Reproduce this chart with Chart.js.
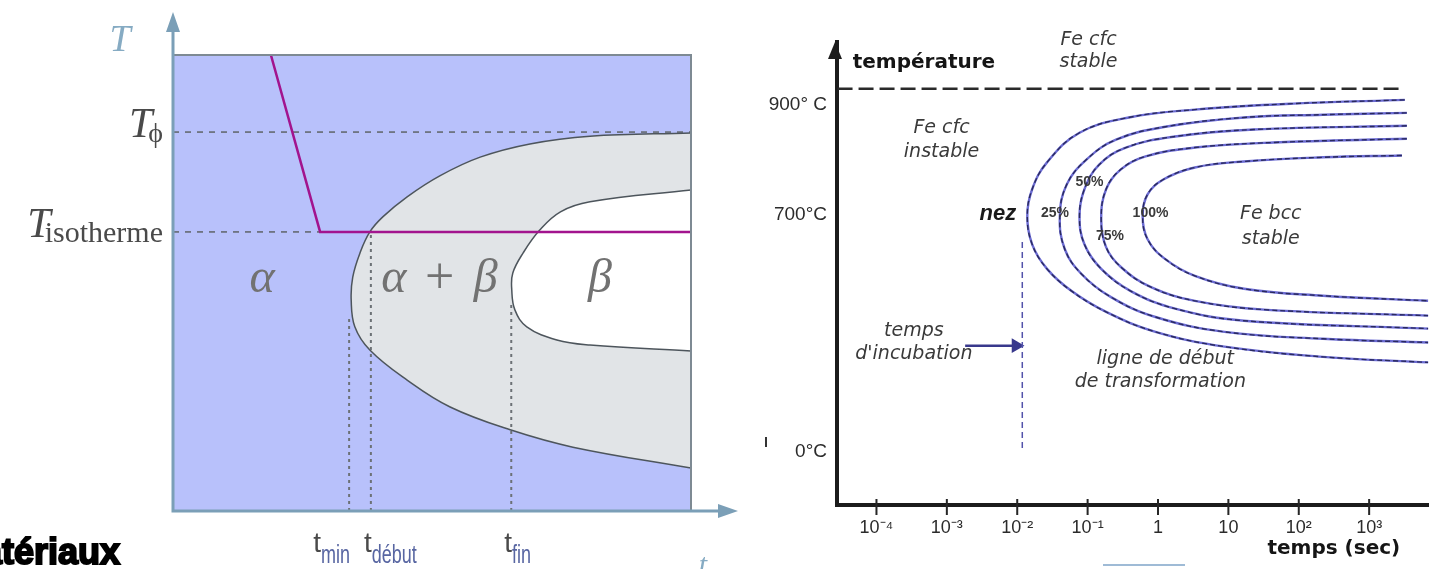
<!DOCTYPE html>
<html lang="fr">
<head>
<meta charset="UTF-8">
<title>Diagramme TTT</title>
<script src="https://cdn.jsdelivr.net/npm/chart.js@4.4.0/dist/chart.umd.min.js"></script>
<style>
  html, body { margin: 0; padding: 0; background: #fff; overflow: hidden; }
  #left { position: absolute; left: 0; top: 0; }
  #right { position: absolute; left: 760px; top: 0; }
</style>
</head>
<body>
<canvas id="left" width="760" height="569"></canvas>
<canvas id="right" width="677" height="569"></canvas>
<script>
// ---------- left diagram (schematic units, 0..100 on both axes) ----------
// boundary alpha | alpha+beta, from top right round the nose to bottom right
const phaseOuter = [[100, 82.9], [80.5, 82.2], [68.9, 80.5], [59.3, 77.6], [51.5, 73.5], [45.2, 68.9],
  [40.5, 64.5], [38.0, 61.2], [36.1, 56.6], [34.7, 51.3], [34.4, 46.3], [35.1, 40.4], [38.0, 35.3],
  [45.2, 28.7], [53.5, 22.8], [65.1, 17.8], [77.2, 14.0], [100, 9.4]];
// boundary alpha+beta | beta
const phaseInner = [[100, 70.4], [80.5, 67.8], [74.8, 65.6], [70.8, 61.6], [67.6, 56.6], [65.6, 52.2],
  [65.4, 48.5], [66.0, 44.1], [68.3, 40.4], [74.1, 37.5], [80.5, 36.4], [100, 35.1]];
const coolingPath = [[18.9, 100], [28.4, 61.2], [100, 61.2]];
const tempLevels = [83.1, 61.2];
const tempSubs = ['ϕ', 'isotherme'];
const timeMarks = [34.0, 38.2, 65.3];
const timeMarkTops = [42.3, 61.2, 46.0];
const timeMarkSubs = ['min', 'début', 'fin'];
const phaseNames = ['α', 'α + β', 'β'];
const phaseX = [17.2, 51.5, 82.4];
const phaseY = 50.7;

// ---------- right diagram (time in s, log axis; temperature axis is schematic) ----------
const timeTicks = [1e-4, 1e-3, 1e-2, 1e-1, 1, 10, 100, 1000];
const timeTickLabels = ['10⁻⁴', '10⁻³', '10⁻²', '10⁻¹', '1', '10', '10²', '10³'];
const tempTicks = [11.6, 62.7, 86.5];
const tempTickLabels = ['0°C', '700°C', '900° C'];
const curveStart = [[3210, 87.5], [84, 86.7], [3.34, 85.4], [0.385, 83.7], [0.0767, 80.4], [0.0265, 74.0],
  [0.0163, 68.2], [0.0139, 62.4], [0.0163, 56.3], [0.0265, 51.0], [0.0593, 46.2], [0.183, 41.7],
  [0.92, 37.4], [8.79, 34.2], [221, 32.0], [6900, 30.8]];
const curve25 = [[3430, 84.7], [221, 84.3], [16.7, 83.7], [1.27, 81.7], [0.253, 78.9], [0.0962, 74.6],
  [0.0505, 69.2], [0.0403, 62.4], [0.0473, 55.3], [0.0818, 49.9], [0.215, 44.9], [0.92, 40.6],
  [8.79, 37.4], [221, 35.9], [6900, 35.1]];
const curve50 = [[3430, 81.9], [23.1, 81.1], [1.75, 79.6], [0.349, 77.2], [0.146, 73.5], [0.0901, 68.2],
  [0.0767, 62.4], [0.0901, 56.3], [0.156, 51.0], [0.41, 46.2], [1.75, 42.4], [16.7, 39.8], [6900, 38.1]];
const curve75 = [[3430, 79.1], [44.1, 78.3], [3.34, 77.2], [0.667, 75.3], [0.297, 72.5], [0.183, 68.2],
  [0.156, 61.7], [0.183, 55.7], [0.297, 51.4], [0.783, 47.1], [3.34, 44.1], [31.9, 42.2], [6900, 40.9]];
const curve100 = [[2920, 75.5], [221, 75.1], [16.7, 74.2], [3.34, 72.9], [1.19, 70.3], [0.711, 67.1],
  [0.605, 62.4], [0.711, 57.4], [1.27, 53.1], [3.34, 49.5], [16.7, 46.7], [221, 45.2], [6900, 44.1]];
const stableLimit = 89.9;
const incubationTime = 0.0118;
const incubationSpan = [56.8, 12.3];
const incubationArrow = [[0.00182, 34.4], [0.0096, 34.4]];

const rightNotes = [
  { text: 'température', t: 4.6e-5, v: 95.5, font: 'bold 20px "DejaVu Sans"', align: 'left', color: '#151515' },
  { text: 'Fe cfc', t: 0.103, v: 100.4 },
  { text: 'stable', t: 0.103, v: 95.7 },
  { text: 'Fe cfc', t: 0.00084, v: 81.5 },
  { text: 'instable', t: 0.00084, v: 76.3 },
  { text: 'nez', t: 0.0053, v: 62.8, font: 'italic bold 22px "Liberation Sans"', color: '#1a1a1a' },
  { text: '25%', t: 0.0343, v: 63.0, font: 'bold 14px "Liberation Sans"' },
  { text: '50%', t: 0.106, v: 69.7, font: 'bold 14px "Liberation Sans"' },
  { text: '75%', t: 0.208, v: 58.1, font: 'bold 14px "Liberation Sans"' },
  { text: '100%', t: 0.783, v: 63.0, font: 'bold 14px "Liberation Sans"' },
  { text: 'Fe bcc', t: 40, v: 62.8 },
  { text: 'stable', t: 40, v: 57.4 },
  { text: 'temps', t: 0.00034, v: 37.6 },
  { text: "d'incubation", t: 0.00034, v: 32.7 },
  { text: 'ligne de début', t: 1.27, v: 31.6 },
  { text: 'de transformation', t: 1.08, v: 26.5 },
  { text: 'temps (sec)', t: 315, v: -9.5, font: 'bold 20px "DejaVu Sans"', color: '#151515' }
];

const pts = arr => arr.map(([x, y]) => ({ x, y }));

// ---------- left chart ----------
const axisBlue = '#7b9fb7';
const markAnchor = ['right', 'left', 'left'];

function subLabel(ctx, main, sub, x, base, mainFont, subFont, drop, gap, align) {
  ctx.font = mainFont;
  const w1 = ctx.measureText(main).width;
  ctx.font = subFont;
  const w2 = ctx.measureText(sub).width;
  const left = align === 'right' ? x - w1 - w2 - gap : x;
  ctx.font = mainFont;
  ctx.fillText(main, left, base);
  ctx.font = subFont;
  ctx.fillText(sub, left + w1 + gap, base + drop);
}

const leftDecor = {
  id: 'leftDecor',
  afterDraw(chart) {
    const { ctx, chartArea: a, scales: { x, y } } = chart;
    const x0 = x.getPixelForValue(0), y0 = y.getPixelForValue(0);
    ctx.save();
    // axes with arrows
    ctx.strokeStyle = axisBlue;
    ctx.fillStyle = axisBlue;
    ctx.lineWidth = 3;
    ctx.beginPath();
    ctx.moveTo(x0, y0 + 1.5); ctx.lineTo(x0, a.top - 30);
    ctx.moveTo(x0 - 1.5, y0); ctx.lineTo(a.right + 32, y0);
    ctx.stroke();
    ctx.beginPath();
    ctx.moveTo(x0, a.top - 43); ctx.lineTo(x0 - 7, a.top - 23); ctx.lineTo(x0 + 7, a.top - 23); ctx.closePath();
    ctx.moveTo(a.right + 47, y0); ctx.lineTo(a.right + 27, y0 - 7); ctx.lineTo(a.right + 27, y0 + 7); ctx.closePath();
    ctx.fill();

    // axis names
    ctx.textAlign = 'center';
    ctx.textBaseline = 'alphabetic';
    ctx.font = 'italic 38px "Liberation Serif"';
    ctx.fillStyle = '#86abc3';
    ctx.fillText('T', x0 - 53, a.top - 4);
    ctx.font = 'italic 30px "Liberation Serif"';
    ctx.fillText('t', a.right + 12, y0 + 63);

    // temperature levels
    ctx.textAlign = 'left';
    ctx.fillStyle = '#4a4a4a';
    tempLevels.forEach((lv, i) => {
      const py = y.getPixelForValue(lv);
      const subFont = i === 0 ? '28px "Liberation Serif"' : '30px "Liberation Serif"';
      subLabel(ctx, 'T', tempSubs[i], x0 - 10, py + 5, 'italic 42px "Liberation Serif"', subFont,
        5, i === 0 ? -4 : -6, 'right');
    });

    // time marks
    timeMarks.forEach((t, i) => {
      const px = x.getPixelForValue(t);
      ctx.font = '28px "Liberation Sans"';
      const w1 = ctx.measureText('t').width;
      ctx.font = '18px "Liberation Sans"';
      const w2 = ctx.measureText(timeMarkSubs[i]).width;
      const left = markAnchor[i] === 'right' ? px + 1 - w1 - w2 : px - 7;
      ctx.fillStyle = '#4a4a4a';
      ctx.font = '28px "Liberation Sans"';
      ctx.fillText('t', left, y0 + 41);
      ctx.fillStyle = '#5866a2';
      ctx.font = '18px "Liberation Sans"';
      ctx.save();
      ctx.translate(left + w1, y0 + 52);
      ctx.scale(1, 1.45);
      ctx.fillText(timeMarkSubs[i], 0, 0);
      ctx.restore();
    });

    // phase names
    ctx.fillStyle = '#727272';
    ctx.textAlign = 'center';
    ctx.textBaseline = 'middle';
    const py = y.getPixelForValue(phaseY);
    phaseNames.forEach((nm, i) => {
      const cx = x.getPixelForValue(phaseX[i]);
      const parts = nm.split(' ');
      parts.forEach((p, k) => {
        ctx.font = p === '+' ? '52px "Liberation Serif"' : 'italic 48px "Liberation Serif"';
        ctx.fillText(p, cx + (k - (parts.length - 1) / 2) * 46, py);
      });
    });

    // cropped title fragment
    ctx.textAlign = 'right';
    ctx.textBaseline = 'alphabetic';
    ctx.fillStyle = '#000';
    ctx.strokeStyle = '#000';
    ctx.lineWidth = 2;
    ctx.font = 'bold 36px "Liberation Sans"';
    ctx.fillText('Matériaux', 120, 564);
    ctx.strokeText('Matériaux', 120, 564);
    ctx.restore();
  }
};

new Chart(document.getElementById('left'), {
  type: 'line',
  data: {
    datasets: [
      { data: pts([[0, 100], [100, 100], [100, 0]]), borderColor: '#7e8a93', borderWidth: 2, clip: 8, order: 0 },
      { data: pts(coolingPath), borderColor: '#a2148e', borderWidth: 2.5, order: 1 },
      ...timeMarks.map((t, i) => ({
        data: pts([[t, 0], [t, timeMarkTops[i]]]), borderColor: '#6c7176', borderWidth: 2,
        borderDash: [3, 4], order: 2
      })),
      { data: pts(phaseInner), fill: 'shape', backgroundColor: '#ffffff', borderColor: '#4d555c',
        borderWidth: 1.5, tension: 0.4, order: 3 },
      { data: pts(phaseOuter), fill: 'shape', backgroundColor: '#e1e4e7', borderColor: '#4d555c',
        borderWidth: 1.5, tension: 0.4, order: 4 },
      { data: pts([[0, tempLevels[0]], [100, tempLevels[0]]]), borderColor: '#5f6468', borderWidth: 1.5,
        borderDash: [6, 6], order: 5 },
      { data: pts([[0, tempLevels[1]], [coolingPath[1][0], tempLevels[1]]]), borderColor: '#5f6468',
        borderWidth: 1.5, borderDash: [6, 6], order: 5 },
      { data: pts([[0, 0], [0, 100], [100, 100], [100, 0]]), fill: 'shape', backgroundColor: '#b8c1fb',
        borderWidth: 0, order: 6 }
    ]
  },
  options: {
    responsive: false,
    animation: false,
    devicePixelRatio: 1,
    events: [],
    layout: { padding: { left: 173, top: 55, right: 69, bottom: 58 } },
    elements: { point: { radius: 0 }, line: { tension: 0 } },
    plugins: { legend: { display: false }, tooltip: { enabled: false } },
    scales: {
      x: { type: 'linear', min: 0, max: 100, display: false },
      y: { type: 'linear', min: 0, max: 100, display: false }
    }
  },
  plugins: [leftDecor]
});

// ---------- right chart ----------
const rightDecor = {
  id: 'rightDecor',
  afterDraw(chart) {
    const { ctx, chartArea: a, scales: { x, y } } = chart;
    ctx.save();
    const ax = a.left - 2;
    ctx.fillStyle = '#1c1c1c';
    ctx.beginPath();
    ctx.moveTo(ax, a.top); ctx.lineTo(ax - 7, a.top + 17); ctx.lineTo(ax + 7, a.top + 17); ctx.closePath();
    ctx.fill();
    ctx.strokeStyle = '#262626';
    ctx.lineWidth = 2;
    ctx.beginPath();
    timeTicks.forEach(t => {
      const px = x.getPixelForValue(t);
      ctx.moveTo(px, a.bottom - 6); ctx.lineTo(px, a.bottom + 10);
    });
    ctx.stroke();

    ctx.textBaseline = 'middle';
    rightNotes.forEach(n => {
      ctx.font = n.font || 'italic 19px "DejaVu Sans"';
      ctx.fillStyle = n.color || '#3a3a3a';
      ctx.textAlign = n.align || 'center';
      ctx.fillText(n.text, x.getPixelForValue(n.t), y.getPixelForValue(n.v));
    });

    // scan leftovers at the edges of the picture
    ctx.fillStyle = '#333';
    ctx.fillRect(5, 437, 2, 10);
    ctx.strokeStyle = '#7fa4c8';
    ctx.lineWidth = 1.5;
    ctx.beginPath(); ctx.moveTo(343, 565); ctx.lineTo(425, 565); ctx.stroke();
    ctx.restore();
  }
};

const curves = [curveStart, curve25, curve50, curve75, curve100];

new Chart(document.getElementById('right'), {
  type: 'line',
  data: {
    datasets: [
      ...curves.map(c => ({ data: pts(c), borderColor: '#2a2a5e', borderWidth: 1.4, borderDash: [5, 3],
        tension: 0.4, order: 1 })),
      ...curves.map(c => ({ data: pts(c), borderColor: '#6b6bd2', borderWidth: 2.4, tension: 0.4, order: 2 })),
      { data: pts([[2.8e-5, stableLimit], [2920, stableLimit]]), borderColor: '#2a2a2a', borderWidth: 2.5,
        borderDash: [15, 6], order: 3 },
      { data: pts([[incubationTime, incubationSpan[0]], [incubationTime, incubationSpan[1]]]),
        borderColor: '#5252aa', borderWidth: 1.5, borderDash: [6, 4], order: 3 },
      { data: pts(incubationArrow), borderColor: '#38388c', backgroundColor: '#38388c', borderWidth: 2.5,
        pointRadius: [0, 6], pointStyle: 'triangle', rotation: 90, order: 3 }
    ]
  },
  options: {
    responsive: false,
    animation: false,
    devicePixelRatio: 1,
    events: [],
    layout: { padding: { left: 0, top: 42, right: 0, bottom: 0 } },
    elements: { point: { radius: 0 } },
    plugins: { legend: { display: false }, tooltip: { enabled: false } },
    scales: {
      x: {
        type: 'logarithmic', min: 2.75e-5, max: 6970, bounds: 'data',
        afterBuildTicks: s => { s.ticks = timeTicks.map(value => ({ value })); },
        afterFit: s => { s.height = 64; },
        grid: { display: false, drawTicks: false },
        border: { display: true, color: '#1c1c1c', width: 4 },
        ticks: { autoSkip: false, maxRotation: 0, padding: 12, color: '#2b2b2b',
          font: { family: 'Liberation Sans', size: 18 }, callback: (v, i) => timeTickLabels[i] }
      },
      y: {
        type: 'linear', min: 0, max: 100,
        afterBuildTicks: s => { s.ticks = tempTicks.map(value => ({ value })); },
        afterFit: s => { s.width = 77; },
        grid: { display: false, drawTicks: false },
        border: { display: true, color: '#1c1c1c', width: 4 },
        ticks: { padding: 10, color: '#2b2b2b', font: { family: 'Liberation Sans', size: 19 },
          callback: (v, i) => tempTickLabels[i] }
      }
    }
  },
  plugins: [rightDecor]
});
</script>
</body>
</html>
